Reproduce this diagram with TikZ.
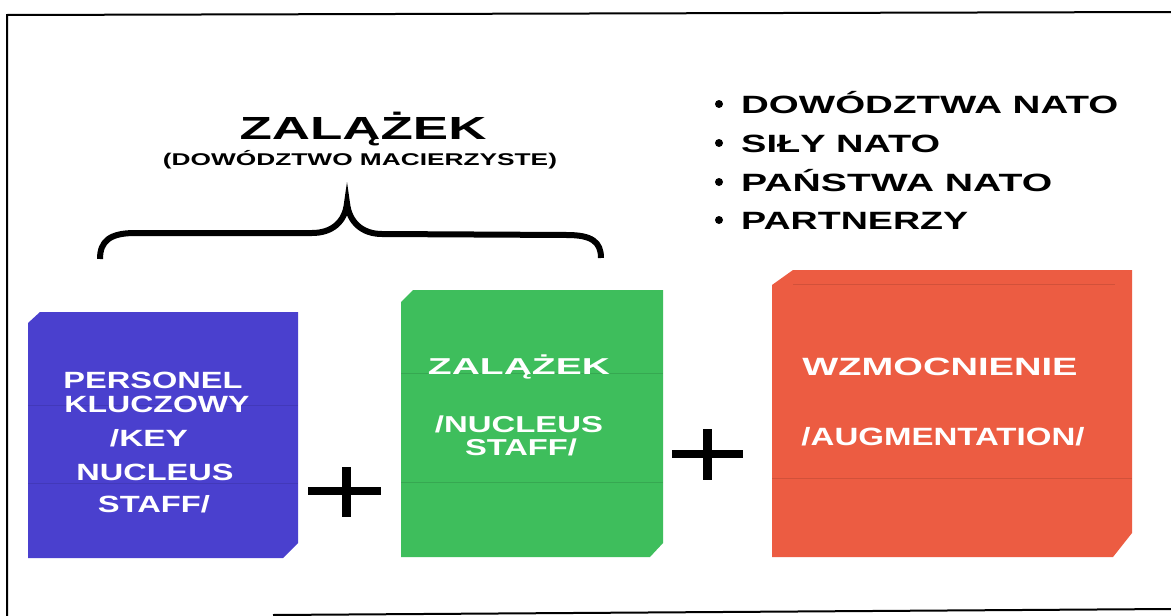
\documentclass[tikz,border=0pt]{standalone}
\usepackage{fontspec}
\setmainfont{Liberation Sans}
\usepackage{graphicx}
\newcommand{\fw}[2]{\resizebox{#1}{\height}{#2}}
\definecolor{boxblue}{RGB}{74,64,206}
\definecolor{boxgreen}{RGB}{62,190,92}
\definecolor{boxred}{RGB}{236,92,66}
\begin{document}
\begin{tikzpicture}[x=1pt,y=-1pt,
  txt/.style={inner sep=0pt, anchor=base, font=\bfseries},
  wtxt/.style={txt, text=white},
  frameline/.style={line width=2pt, black},
  slab/.style={line width=1pt, opacity=0.25},
  plusbar/.style={line width=8pt, black},
  bracel/.style={line width=6pt, black}]
\useasboundingbox (0,0) rectangle (1171,616);
\fill[white] (0,0) rectangle (1171,616);
% frame
\draw[frameline] (7,616) -- (7,15) -- (1171,12);
\draw[frameline] (273,615) -- (1171,609);
% title
\node[txt, font=\bfseries\fontsize{32}{38}\selectfont] (title) at (363,139) {\fw{247pt}{ZALĄŻEK}};
\node[txt, font=\bfseries\fontsize{17}{20}\selectfont] (subtitle) at (360,165) {\fw{394pt}{(DOWÓDZTWO MACIERZYSTE)}};
% brace
\draw[bracel] (100,259) .. controls (100,241) and (110,233) .. (135,233) -- (312,233)
  .. controls (332,233) and (345,222) .. (347,203)
  .. controls (349,222) and (362,234) .. (382,234) -- (567,235)
  .. controls (592,235) and (601,242) .. (601,258);
% bullet list
\foreach \y in {104,143,182,220}{
  \fill (719,\y) circle (4pt);
}
\node[txt, anchor=base west, font=\bfseries\fontsize{25}{30}\selectfont] (b1) at (741,113) {\fw{377pt}{DOWÓDZTWA NATO}};
\node[txt, anchor=base west, font=\bfseries\fontsize{25}{30}\selectfont] (b2) at (741,152) {\fw{199pt}{SIŁY NATO}};
\node[txt, anchor=base west, font=\bfseries\fontsize{25}{30}\selectfont] (b3) at (741,191) {\fw{311pt}{PAŃSTWA NATO}};
\node[txt, anchor=base west, font=\bfseries\fontsize{25}{30}\selectfont] (b4) at (741,229) {\fw{227pt}{PARTNERZY}};
% blue box
\fill[boxblue] (28,323) -- (40,312) -- (298,312) -- (298,543) -- (283,558) -- (28,558) -- cycle;
\draw[slab, boxblue!60!black] (28,405) -- (298,405);
\draw[slab, boxblue!60!black] (28,483) -- (298,483);
\node[wtxt, font=\bfseries\fontsize{23.5}{28}\selectfont] (p1) at (153,388) {\fw{179pt}{PERSONEL}};
\node[wtxt, font=\bfseries\fontsize{23.5}{28}\selectfont] (p2) at (157,412) {\fw{185pt}{KLUCZOWY}};
\node[wtxt, font=\bfseries\fontsize{23.5}{28}\selectfont] (p3) at (149,446) {\fw{78pt}{/KEY}};
\node[wtxt, font=\bfseries\fontsize{23.5}{28}\selectfont] (p4) at (155,480) {\fw{157pt}{NUCLEUS}};
\node[wtxt, font=\bfseries\fontsize{23.5}{28}\selectfont] (p5) at (154,512) {\fw{112pt}{STAFF/}};
% plus 1
\draw[plusbar] (308,491) -- (381,491);
\draw[plusbar, line width=9pt] (346,467) -- (346,517);
% green box
\fill[boxgreen] (401,302) -- (413,290) -- (663,290) -- (663,543) -- (650,557) -- (401,557) -- cycle;
\draw[slab, boxgreen!55!black] (401,373) -- (663,373);
\draw[slab, boxgreen!55!black] (401,482) -- (663,482);
\node[wtxt, font=\bfseries\fontsize{23}{28}\selectfont] (g1) at (519,374) {\fw{182pt}{ZALĄŻEK}};
\node[wtxt, font=\bfseries\fontsize{23}{28}\selectfont] (g2) at (519,432) {\fw{168pt}{/NUCLEUS}};
\node[wtxt, font=\bfseries\fontsize{23}{28}\selectfont] (g3) at (521,455) {\fw{112pt}{STAFF/}};
% plus 2
\draw[plusbar] (672,454) -- (743,454);
\draw[plusbar, line width=9pt] (707,429) -- (707,480);
% red box
\fill[boxred] (772,285) -- (793,270) -- (1132,270) -- (1132,533) -- (1113,557) -- (772,557) -- cycle;
\draw[slab, boxred!55!black] (793,284) -- (1115,284);
\draw[slab, boxred!55!black] (772,478) -- (1132,478);
\node[wtxt, font=\bfseries\fontsize{25}{30}\selectfont] (r1) at (940,375) {\fw{275pt}{WZMOCNIENIE}};
\node[wtxt, font=\bfseries\fontsize{25}{30}\selectfont] (r2) at (943,445) {\fw{283pt}{/AUGMENTATION/}};
\end{tikzpicture}
\end{document}
